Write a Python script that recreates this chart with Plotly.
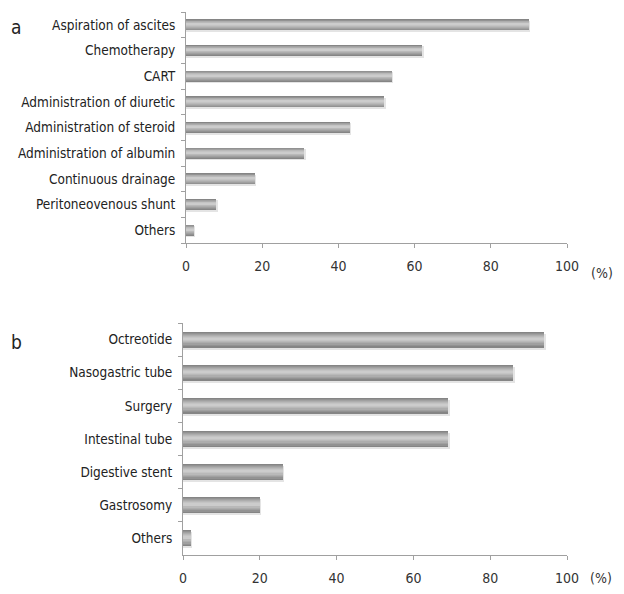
import plotly.graph_objects as go

# Panel a data (top to bottom)
cats_a = ["Aspiration of ascites", "Chemotherapy", "CART", "Administration of diuretic",
          "Administration of steroid", "Administration of albumin", "Continuous drainage",
          "Peritoneovenous shunt", "Others"]
vals_a = [90, 62, 54, 52, 43, 31, 18, 8, 2]

# Panel b data (top to bottom)
cats_b = ["Octreotide", "Nasogastric tube", "Surgery", "Intestinal tube",
          "Digestive stent", "Gastrosomy", "Others"]
vals_b = [94, 86, 69, 69, 26, 20, 2]

x_ticks = [0, 20, 40, 60, 80, 100]

FONT = "DejaVu Sans Condensed, Lato, sans-serif"

fig = go.Figure()

def add_panel(cats, vals, xa, ya, w):
    ys = list(reversed(cats))
    xs = list(reversed(vals))
    # soft shadow
    fig.add_trace(go.Bar(y=ys, x=[v + 0.4 for v in xs], orientation="h", width=w, offset=-w / 2 - 0.06,
                         marker=dict(color="#e4e4e4", line=dict(width=0)),
                         xaxis=xa, yaxis=ya, hoverinfo="skip", showlegend=False))
    layers = [(1.0, "#858585"), (0.85, "#929292"), (0.7, "#a0a0a0"), (0.55, "#adadad"),
              (0.4, "#b9b9b9"), (0.25, "#c4c4c4"), (0.12, "#cccccc")]
    for frac, col in layers:
        ww = w * frac
        fig.add_trace(go.Bar(y=ys, x=xs, orientation="h", width=ww,
                             offset=-ww / 2 + w * 0.08 * (1 - frac),
                             marker=dict(color=col, line=dict(width=0)),
                             xaxis=xa, yaxis=ya, hoverinfo="skip", showlegend=False))

add_panel(cats_a, vals_a, "x", "y", 0.44)
add_panel(cats_b, vals_b, "x2", "y2", 0.48)

OFF = 8  # page body margin
W, H = 624 - 2 * OFF, 594 - 2 * OFF
def px(x):
    return (x - OFF) / W
def py(y):
    return 1 - (y - OFF) / H

xcommon = dict(range=[0, 100], tickvals=x_ticks, ticks="outside", ticklen=4, automargin=False,
               ticklabelstandoff=6,
               tickcolor="#a0a0a0", showline=True, linecolor="#a0a0a0", linewidth=1,
               showgrid=False, zeroline=False, tickfont=dict(family=FONT, size=14, color="#333"))
ycommon = dict(type="category", ticks="outside", ticklen=4, tickson="boundaries", automargin=False,
               ticklabelstandoff=7,
               tickcolor="#a0a0a0", showline=True, linecolor="#a0a0a0", linewidth=1,
               showgrid=False, zeroline=False, tickfont=dict(family=FONT, size=13.5, color="#222"))

ann = dict(xref="paper", yref="paper", showarrow=False, xanchor="center", yanchor="middle")

fig.update_layout(
    width=W, height=H, margin=dict(l=0, r=0, t=0, b=0, autoexpand=False),
    paper_bgcolor="white", plot_bgcolor="white", barmode="overlay", bargap=0,
    xaxis=dict(domain=[px(186), px(567)], anchor="y", **xcommon),
    yaxis=dict(domain=[py(243), py(12)], anchor="x", **ycommon),
    xaxis2=dict(domain=[px(183), px(567)], anchor="y2", **xcommon),
    yaxis2=dict(domain=[py(555), py(323)], anchor="x2", **ycommon),
    annotations=[
        dict(text="a", x=px(16), y=py(27), font=dict(family=FONT, size=19, color="#222"), **ann),
        dict(text="b", x=px(16), y=py(342), font=dict(family=FONT, size=19, color="#222"), **ann),
        dict(text="(%)", x=px(602), y=py(273), font=dict(family=FONT, size=14, color="#333"), **ann),
        dict(text="(%)", x=px(601), y=py(578), font=dict(family=FONT, size=14, color="#333"), **ann),
    ],
)

fig.write_html("out.html")
